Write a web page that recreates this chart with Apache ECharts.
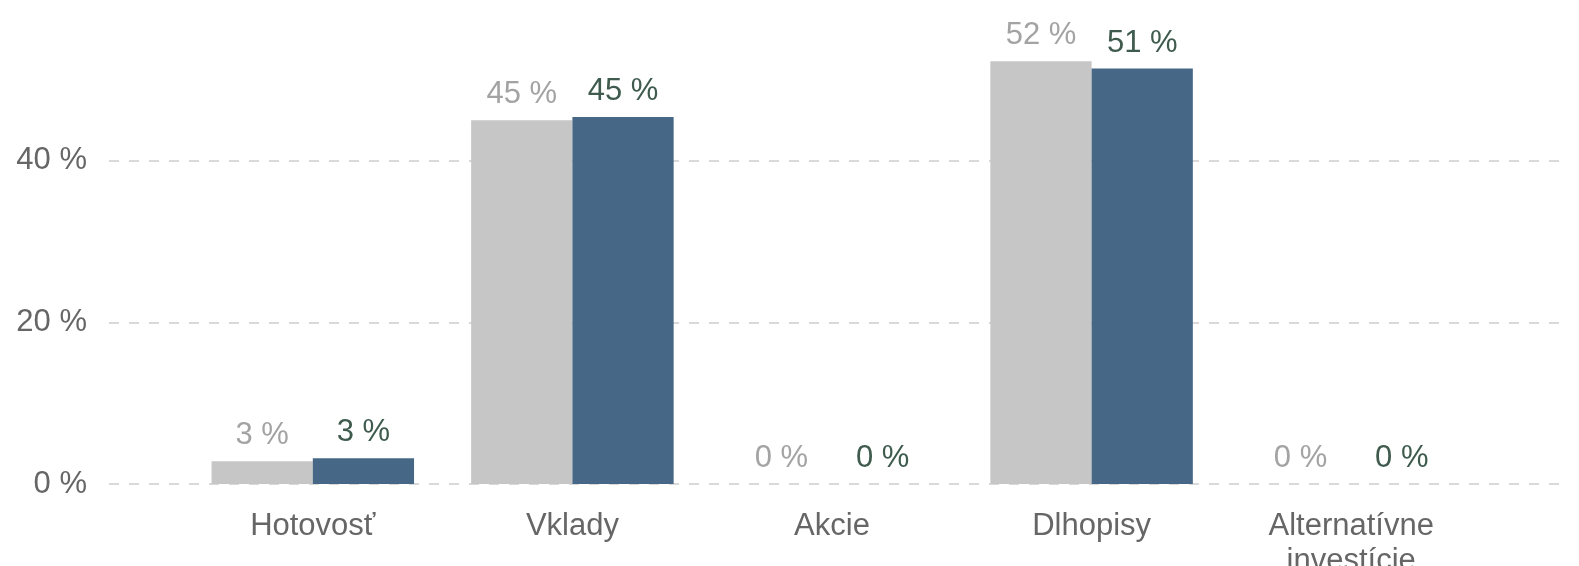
<!DOCTYPE html>
<html>
<head>
<meta charset="utf-8">
<style>
  html, body { margin: 0; padding: 0; background: #ffffff; }
  #chart { width: 1579px; height: 566px; }
</style>
<script src="https://cdn.jsdelivr.net/npm/echarts@6/dist/echarts.min.js"></script>
</head>
<body>
<div id="chart"></div>
<script>
// Asset classes on the category axis
const categories = ['Hotovosť', 'Vklady', 'Akcie', 'Dlhopisy', 'Alternatívne\ninvestície'];
// Portfolio share per asset class, in percent
const seriesPrev = [2.8, 45.0, 0, 52.3, 0];
const seriesCurr = [3.2, 45.4, 0, 51.4, 0];
// Value axis ticks
const yTicks = [0, 20, 40, 60];

const FONT = 'Liberation Sans, Arial, sans-serif';
const pct = v => Math.round(v) + ' %';

const chart = echarts.init(document.getElementById('chart'), null, { renderer: 'canvas' });

const yMin = yTicks[0];
const yMax = yTicks[yTicks.length - 1];
const yStep = yTicks[1] - yTicks[0];

const option = {
  backgroundColor: '#ffffff',
  animation: false,
  grid: [
    // wide grid: carries the dashed gridlines and the value labels
    { left: 109, right: 20, top: -1, bottom: 82, containLabel: false, outerBoundsMode: 'none' },
    // inner grid: carries the bars and category labels
    { left: 183, right: 98, top: -1, bottom: 82, containLabel: false, outerBoundsMode: 'none' }
  ],
  xAxis: [
    { type: 'category', gridIndex: 0, data: categories, show: false },
    {
      type: 'category', gridIndex: 1, data: categories,
      axisLine: { show: false }, axisTick: { show: false },
      axisLabel: {
        margin: 25, fontSize: 31, color: '#666666', fontFamily: FONT,
        lineHeight: 35, interval: 0
      }
    }
  ],
  yAxis: [
    {
      type: 'value', gridIndex: 0, min: yMin, max: yMax, interval: yStep,
      axisLine: { show: false }, axisTick: { show: false },
      axisLabel: {
        margin: 22, fontSize: 31, color: '#666666', fontFamily: FONT,
        showMaxLabel: false, formatter: v => v + ' %'
      },
      splitLine: { lineStyle: { color: '#d9d9d9', width: 2, type: [10, 10] } }
    },
    {
      type: 'value', gridIndex: 1, min: yMin, max: yMax, interval: yStep,
      show: false, splitLine: { show: false }
    }
  ],
  series: [
    {
      type: 'bar', xAxisIndex: 1, yAxisIndex: 1, data: seriesPrev,
      barGap: '0%', barCategoryGap: '22%',
      itemStyle: { color: '#c6c6c6' },
      label: {
        show: true, position: 'top', distance: 10,
        fontSize: 31, color: '#a3a3a3', fontFamily: FONT,
        formatter: p => pct(p.value)
      }
    },
    {
      type: 'bar', xAxisIndex: 1, yAxisIndex: 1, data: seriesCurr,
      barGap: '0%', barCategoryGap: '22%',
      itemStyle: { color: '#466886' },
      label: {
        show: true, position: 'top', distance: 10,
        fontSize: 31, color: '#3f5b4e', fontFamily: FONT,
        formatter: p => pct(p.value)
      }
    }
  ]
};

chart.setOption(option);
</script>
</body>
</html>
